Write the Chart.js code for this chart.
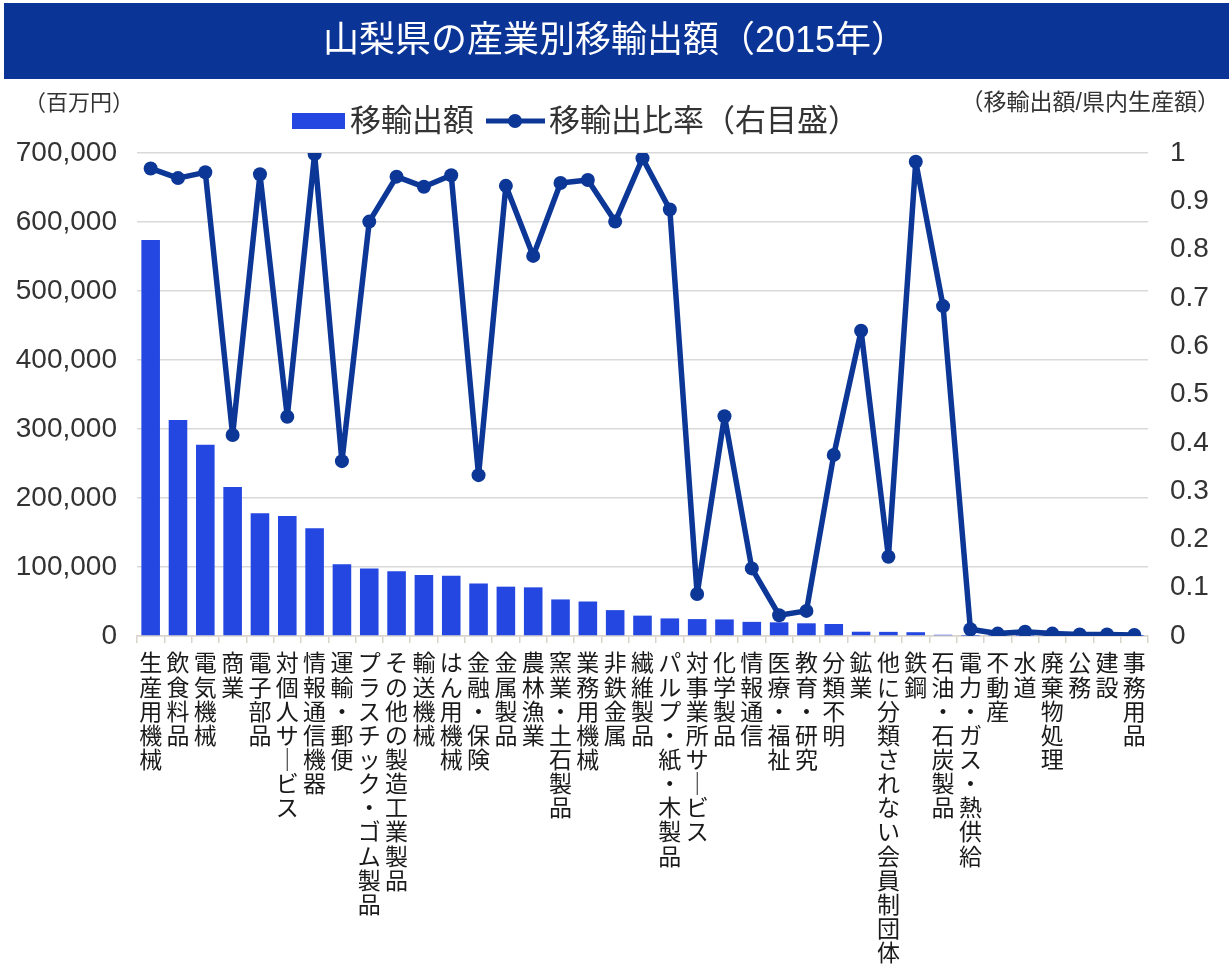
<!DOCTYPE html>
<html lang="ja">
<head>
<meta charset="utf-8">
<title>山梨県の産業別移輸出額（2015年）</title>
<script src="https://cdn.jsdelivr.net/npm/chart.js@4.4.1/dist/chart.umd.min.js"></script>
<style>
  body { margin: 0; background: #ffffff; }
  #wrap { width: 1229px; height: 964px; position: relative; }
</style>
</head>
<body>
<div id="wrap"><canvas id="exportChart" width="1229" height="964"></canvas></div>
<script>
// categories (industries), sorted by export amount
const categories = [
  "生産用機械", "飲食料品", "電気機械", "商業", "電子部品", "対個人サービス",
  "情報通信機器", "運輸・郵便", "プラスチック・ゴム製品", "その他の製造工業製品",
  "輸送機械", "はん用機械", "金融・保険", "金属製品", "農林漁業", "窯業・土石製品",
  "業務用機械", "非鉄金属", "繊維製品", "パルプ・紙・木製品", "対事業所サービス",
  "化学製品", "情報通信", "医療・福祉", "教育・研究", "分類不明", "鉱業",
  "他に分類されない会員制団体", "鉄鋼", "石油・石炭製品", "電力・ガス・熱供給",
  "不動産", "水道", "廃棄物処理", "公務", "建設", "事務用品"
];

// 移輸出額 (百万円)
const exportAmounts = [
  574000, 313000, 277000, 216000, 178000, 174000, 156000, 104000, 98000, 94000,
  88500, 87500, 76000, 71500, 70500, 53000, 50000, 37500, 29500, 25500,
  24500, 24000, 20500, 19800, 18400, 17400, 6200, 6000, 5500, 1800,
  300, 200, 200, 200, 100, 100, 100
];

// 移輸出比率 (移輸出額/県内生産額)
const exportRatios = [
  0.968, 0.948, 0.960, 0.416, 0.956, 0.454, 0.998, 0.362, 0.858, 0.951,
  0.930, 0.954, 0.333, 0.932, 0.787, 0.938, 0.944, 0.858, 0.989, 0.883,
  0.087, 0.455, 0.140, 0.043, 0.052, 0.375, 0.632, 0.164, 0.982, 0.683,
  0.014, 0.005, 0.009, 0.005, 0.003, 0.003, 0.002
];

const leftTicks = [0, 700000, 100000];   // min, max, step
const rightTicks = [0, 1, 0.1];

const barColor = "#2347e0";
const lineColor = "#0c3796";
const jpFont = "'Liberation Sans', 'Noto Sans CJK JP', sans-serif";

// vertical label: one character per line, long bar turned upright
function verticalLabel(name) {
  return Array.from(name).map(c => (c === "ー" ? "｜" : c));
}

// banner, axis unit captions and legend drawn on the canvas
const decorations = {
  id: "decorations",
  beforeDraw(chart) {
    const ctx = chart.ctx;
    ctx.save();
    ctx.fillStyle = "#0b3497";
    ctx.fillRect(4, 3, 1225, 76);
    ctx.fillStyle = "#ffffff";
    ctx.font = "36px " + jpFont;
    ctx.textAlign = "center";
    ctx.textBaseline = "middle";
    ctx.fillText("山梨県の産業別移輸出額（2015年）", 615, 42);
    ctx.restore();
  },
  afterDraw(chart) {
    const ctx = chart.ctx;
    ctx.save();
    ctx.fillStyle = "#333333";
    ctx.textBaseline = "middle";
    ctx.font = "22px " + jpFont;
    ctx.textAlign = "left";
    ctx.fillText("（百万円）", 24, 104);
    ctx.font = "23px " + jpFont;
    ctx.textAlign = "right";
    ctx.fillText("（移輸出額/県内生産額）", 1220, 104);

    // legend
    const ly = 121;
    ctx.fillStyle = barColor;
    ctx.fillRect(292, ly - 8, 53, 16);
    ctx.fillStyle = "#333333";
    ctx.font = "31px " + jpFont;
    ctx.textAlign = "left";
    ctx.fillText("移輸出額", 350, ly + 1);
    ctx.strokeStyle = lineColor;
    ctx.lineWidth = 5;
    ctx.beginPath();
    ctx.moveTo(486, ly);
    ctx.lineTo(545, ly);
    ctx.stroke();
    ctx.fillStyle = lineColor;
    ctx.beginPath();
    ctx.arc(515, ly, 7, 0, Math.PI * 2);
    ctx.fill();
    ctx.fillStyle = "#333333";
    ctx.fillText("移輸出比率（右目盛）", 549, ly + 1);
    ctx.restore();
  }
};

new Chart(document.getElementById("exportChart").getContext("2d"), {
  type: "bar",
  data: {
    labels: categories.map(verticalLabel),
    datasets: [
      {
        type: "line",
        label: "移輸出比率（右目盛）",
        data: exportRatios,
        yAxisID: "y2",
        borderColor: lineColor,
        backgroundColor: lineColor,
        borderWidth: 5.5,
        borderJoinStyle: "round",
        borderCapStyle: "round",
        pointRadius: 7,
        pointBackgroundColor: lineColor,
        pointBorderWidth: 0,
        tension: 0,
        order: 0
      },
      {
        label: "移輸出額",
        data: exportAmounts,
        yAxisID: "y",
        backgroundColor: barColor,
        barPercentage: 0.68,
        categoryPercentage: 1.0,
        order: 1
      }
    ]
  },
  options: {
    responsive: false,
    animation: false,
    devicePixelRatio: 1,
    layout: { padding: { top: 153, left: 0, right: 0, bottom: 0 } },
    plugins: {
      legend: { display: false },
      title: { display: false },
      tooltip: { enabled: false }
    },
    scales: {
      x: {
        offset: true,
        afterFit(scale) { scale.height = 328; },
        grid: {
          offset: true,
          drawOnChartArea: false,
          drawTicks: true,
          tickLength: 7,
          color: "#d9d4cc",
          lineWidth: 1.5
        },
        border: { color: "#d9d4cc", width: 1.5 },
        ticks: {
          autoSkip: false,
          maxRotation: 0,
          minRotation: 0,
          padding: 10,
          color: "#1a1a1a",
          font: { family: jpFont, size: 23, lineHeight: 1.05 }
        }
      },
      y: {
        position: "left",
        min: leftTicks[0],
        max: leftTicks[1],
        afterFit(scale) { scale.width = 137; },
        grid: { color: "#d9d9d9", lineWidth: 1.5, drawTicks: false },
        border: { display: false },
        ticks: {
          stepSize: leftTicks[2],
          padding: 20,
          color: "#333333",
          font: { family: jpFont, size: 28 },
          callback: v => v.toLocaleString("en-US")
        }
      },
      y2: {
        position: "right",
        min: rightTicks[0],
        max: rightTicks[1],
        afterFit(scale) { scale.width = 81; },
        grid: { drawOnChartArea: false, drawTicks: false },
        border: { display: false },
        ticks: {
          stepSize: rightTicks[2],
          padding: 22,
          color: "#333333",
          font: { family: jpFont, size: 28 },
          callback: v => String(Math.round(v * 10) / 10)
        }
      }
    }
  },
  plugins: [decorations]
});
</script>
</body>
</html>
